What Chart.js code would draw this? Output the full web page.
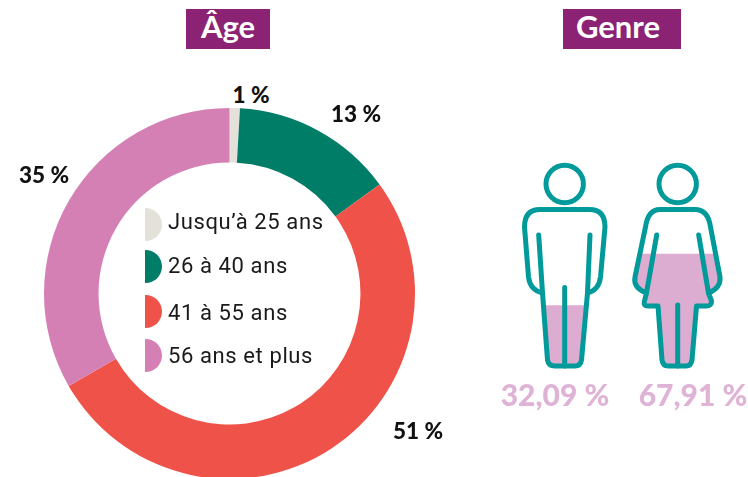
<!DOCTYPE html>
<html lang="fr">
<head>
<meta charset="utf-8">
<title>Âge et genre</title>
<script src="https://cdn.jsdelivr.net/npm/chart.js@4"></script>
<style>
  html, body { margin: 0; padding: 0; width: 748px; height: 477px; overflow: hidden; background: #fff; }
  canvas { position: absolute; display: block; }
  #ageChart { left: 44px; top: 108px; }
  #genreChart { left: 500px; top: 150px; }
  .title, .pct, .share, .legend-row { position: absolute; white-space: nowrap; }
  .title { top: 9px; height: 40px; background: #8b2273; color: #fff; text-align: center; box-sizing: border-box;
           font: 700 31px/35px Lato, sans-serif; }
  .pct { font: 900 22.5px/24px Lato, sans-serif; color: #111; transform: translate(-50%, -50%); }
  .share { top: 378px; font: 900 30px/32px Lato, sans-serif; color: #dfb3d6; transform: translateX(-50%); }
  .legend-row { left: 145px; height: 33px; font: 400 22px/33px Roboto, sans-serif; color: #1a1a1a; letter-spacing: 0.6px; }
  .legend-row i { position: absolute; left: 0; top: 0; width: 17px; height: 33px; border-radius: 0 17px 17px 0; }
  .legend-row span { position: absolute; left: 23px; }
</style>
</head>
<body>
<canvas id="ageChart" width="371" height="371"></canvas>
<canvas id="genreChart" width="248" height="222"></canvas>
<script>
// Tranches d'âge
const ageCategories = ['Jusqu\u2019à 25 ans', '26 à 40 ans', '41 à 55 ans', '56 ans et plus'];
const ageSlices = [0.9, 14.1, 51.7, 33.3];
const ageLabels = ['1 %', '13 %', '51 %', '35 %'];
const ageColors = ['#e3e1d9', '#007d66', '#ee5248', '#d580b5'];

// Genre
const genreCategories = ['Hommes', 'Femmes'];
const genreFill = [28.6, 52.3];
const genreLabels = ['32,09 %', '67,91 %'];

// Silhouettes, repère du canvas genreChart
const heads = [[64.7, 34], [177.7, 34]];
const bodies = [
  'M40 59.5 L89.5 59.5 Q105 59.5 105 77 L100.5 127 Q99 140 87.5 143 L81.5 210 Q80.5 216 75 216 L55 216 Q48.5 216 47.5 210 L42.5 143 Q30 140 28.5 127 L24.5 77 Q24.5 59.5 40 59.5 Z',
  'M160 59.5 L195 59.5 Q208 59.5 210.5 77 L220 127 Q221 138 208.5 143 L211.5 151 Q212 156 206 156 L196.5 156 L192 210 Q191 216 186 216 L168 216 Q163 216 162 210 L158 156 L148 156 Q143 156 144.5 151 L146.5 143 Q133 138 135 127 L145.5 77 Q148 59.5 160 59.5 Z'
];
const innerLines = 'M38.7 85 L42.5 143 M90 85 L87.5 143 M64.7 137.5 L64.7 216 M156.7 85 L146.5 143 M198.7 85 L208.5 143 M177.7 155 L177.7 216';

document.addEventListener('DOMContentLoaded', () => {
    new Chart(document.getElementById('ageChart'), {
        type: 'doughnut',
        data: {
            labels: ageCategories,
            datasets: [{ data: ageSlices, backgroundColor: ageColors, borderWidth: 0 }]
        },
        options: {
            responsive: false,
            animation: false,
            cutout: '70.6%',
            events: [],
            plugins: { legend: { display: false }, tooltip: { enabled: false } }
        }
    });

    // les barres sont coupées par la silhouette, le contour vient par-dessus
    const silhouettes = {
        id: 'silhouettes',
        beforeDatasetsDraw(chart) {
            const ctx = chart.ctx;
            ctx.save();
            const clip = new Path2D();
            bodies.forEach(d => clip.addPath(new Path2D(d)));
            ctx.clip(clip);
        },
        afterDatasetsDraw(chart) {
            const ctx = chart.ctx;
            ctx.restore();
            ctx.save();
            ctx.strokeStyle = '#009a9a';
            ctx.lineWidth = 5;
            ctx.lineCap = 'round';
            ctx.lineJoin = 'round';
            heads.forEach(h => {
                ctx.beginPath();
                ctx.arc(h[0], h[1], 18.7, 0, Math.PI * 2);
                ctx.stroke();
            });
            bodies.forEach(d => ctx.stroke(new Path2D(d)));
            ctx.stroke(new Path2D(innerLines));
            ctx.restore();
        }
    };

    new Chart(document.getElementById('genreChart'), {
        type: 'bar',
        data: {
            labels: genreCategories,
            datasets: [{ data: genreFill, backgroundColor: '#dcacd1', barPercentage: 1, categoryPercentage: 1 }]
        },
        options: {
            responsive: false,
            animation: false,
            events: [],
            layout: { padding: { bottom: 4 } },
            scales: {
                x: { display: false },
                y: { display: false, min: 0, max: 100 }
            },
            plugins: { legend: { display: false }, tooltip: { enabled: false } }
        },
        plugins: [silhouettes]
    });

    // titres, pourcentages et légende en texte
    const add = (cls, text, css) => {
        const el = document.createElement('div');
        el.className = cls;
        el.textContent = text;
        el.style.cssText = css;
        document.body.appendChild(el);
        return el;
    };
    add('title', 'Âge', 'left:186px;width:84px');
    add('title', 'Genre', 'left:563px;width:118px;padding-right:8px');

    const pctSpots = ['left:251px;top:95px', 'left:356px;top:114px', 'left:418px;top:431px', 'left:44px;top:175px'];
    ageLabels.forEach((t, i) => add('pct', t, pctSpots[i]));

    const shareSpots = ['left:555px', 'left:693px'];
    genreLabels.forEach((t, i) => add('share', t, shareSpots[i]));

    const rowTops = [208, 250, 295, 339];
    const textTops = [-3, -1, 1, 0];
    ageCategories.forEach((c, i) => {
        const row = add('legend-row', '', 'top:' + rowTops[i] + 'px');
        const dot = document.createElement('i');
        dot.style.background = ageColors[i];
        const txt = document.createElement('span');
        txt.textContent = c;
        txt.style.top = textTops[i] + 'px';
        row.append(dot, txt);
    });
});
</script>
</body>
</html>
